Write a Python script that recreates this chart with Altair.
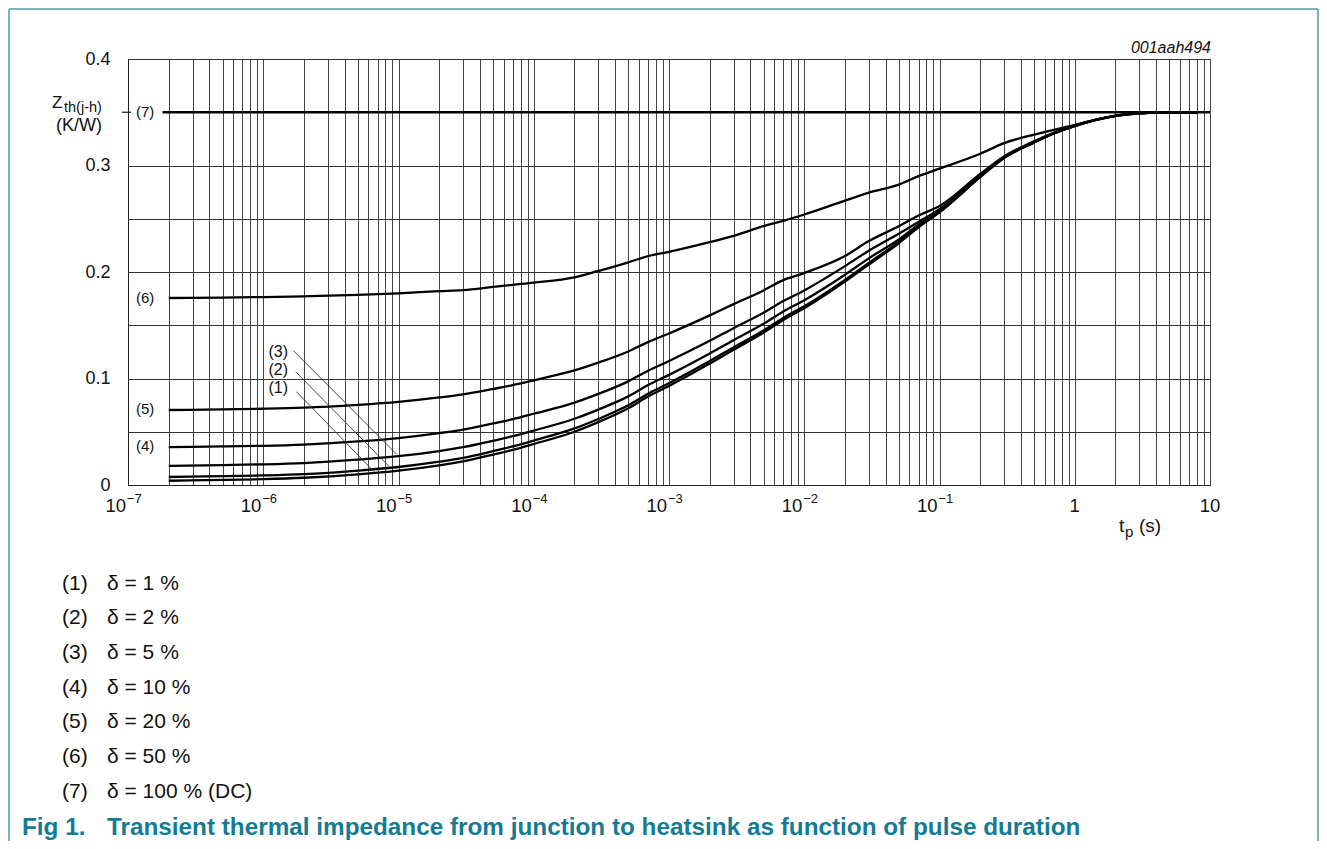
import altair as alt
import pandas as pd

FONT = "Liberation Sans"
TEAL = "#137b93"
BORDER = "#7db3c1"

# ---------------- data ----------------
t_pulse = [2e-7, 5e-7, 1e-6, 2e-6, 5e-6, 1e-5, 2e-5, 3e-5, 5e-5, 7e-5,
           1e-4, 2e-4, 3e-4, 5e-4, 7e-4, 1e-3, 2e-3, 3e-3, 5e-3, 7e-3,
           1e-2, 2e-2, 3e-2, 5e-2, 7e-2, 0.1, 0.2, 0.3, 0.5, 0.7,
           1, 2, 3, 5, 8]

z_d1 = [0.0040, 0.0048, 0.0055, 0.0068, 0.0100, 0.0135, 0.0185, 0.0222, 0.0285, 0.0330,
        0.0385, 0.0500, 0.0590, 0.0720, 0.0830, 0.0930, 0.1140, 0.1270, 0.1430, 0.1550,
        0.1660, 0.1910, 0.2070, 0.2270, 0.2420, 0.2560, 0.2890, 0.3070, 0.3215, 0.3300,
        0.3370, 0.3465, 0.3490, 0.3500, 0.3500]
z_d2 = [0.0075, 0.0083, 0.0090, 0.0102, 0.0135, 0.0169, 0.0219, 0.0255, 0.0318, 0.0362,
        0.0417, 0.0531, 0.0620, 0.0748, 0.0857, 0.0956, 0.1164, 0.1292, 0.1451, 0.1569,
        0.1678, 0.1926, 0.2085, 0.2283, 0.2431, 0.2565, 0.2895, 0.3073, 0.3217, 0.3301,
        0.3371, 0.3466, 0.3490, 0.3500, 0.3500]
z_d5 = [0.0180, 0.0187, 0.0194, 0.0206, 0.0238, 0.0271, 0.0319, 0.0355, 0.0415, 0.0458,
        0.0511, 0.0622, 0.0708, 0.0832, 0.0938, 0.1034, 0.1235, 0.1360, 0.1514, 0.1629,
        0.1734, 0.1974, 0.2128, 0.2305, 0.2445, 0.2575, 0.2900, 0.3076, 0.3219, 0.3302,
        0.3372, 0.3467, 0.3491, 0.3500, 0.3500]
z_d10 = [0.0355, 0.0362, 0.0368, 0.0380, 0.0409, 0.0441, 0.0487, 0.0520, 0.0578, 0.0618,
         0.0669, 0.0773, 0.0855, 0.0973, 0.1073, 0.1164, 0.1354, 0.1472, 0.1618, 0.1727,
         0.1827, 0.2055, 0.2200, 0.2360, 0.2470, 0.2590, 0.2910, 0.3080, 0.3222, 0.3305,
         0.3375, 0.3469, 0.3491, 0.3500, 0.3500]
z_d20 = [0.0704, 0.0710, 0.0716, 0.0726, 0.0753, 0.0781, 0.0822, 0.0851, 0.0902, 0.0938,
         0.0983, 0.1076, 0.1149, 0.1254, 0.1342, 0.1423, 0.1593, 0.1698, 0.1827, 0.1924,
         0.1990, 0.2150, 0.2290, 0.2430, 0.2530, 0.2620, 0.2920, 0.3085, 0.3228, 0.3308,
         0.3378, 0.3467, 0.3491, 0.3500, 0.3500]
z_d50 = [0.1756, 0.1760, 0.1765, 0.1772, 0.1785, 0.1800, 0.1820, 0.1830, 0.1860, 0.1880,
         0.1900, 0.1950, 0.2010, 0.2090, 0.2150, 0.2190, 0.2280, 0.2340, 0.2430, 0.2480,
         0.2540, 0.2670, 0.2745, 0.2820, 0.2900, 0.2970, 0.3110, 0.3210, 0.3290, 0.3335,
         0.3380, 0.3467, 0.3490, 0.3500, 0.3500]

t_dc = [1.8e-7, 10]
z_dc = [0.35, 0.35]

curve_ids = ["(1)", "(2)", "(3)", "(4)", "(5)", "(6)"]
curve_vals = [z_d1, z_d2, z_d5, z_d10, z_d20, z_d50]

legend_keys = ["(1)", "(2)", "(3)", "(4)", "(5)", "(6)", "(7)"]
legend_text = ["δ = 1 %", "δ = 2 %", "δ = 5 %", "δ = 10 %", "δ = 20 %",
               "δ = 50 %", "δ = 100 % (DC)"]

# labels at the left of the curves
lab_left = ["(4)", "(5)", "(6)", "(7)"]
lab_left_t = [1.34e-7, 1.34e-7, 1.34e-7, 1.34e-7]
lab_left_z = [0.0366, 0.0714, 0.1756, 0.35]

# labels with leader lines
lab_lead = ["(1)", "(2)", "(3)"]
lab_lead_t = [1.29e-6, 1.29e-6, 1.29e-6]
lab_lead_z = [0.091, 0.108, 0.1252]
lead_t1 = [1.76e-6, 1.74e-6, 1.67e-6]
lead_z1 = [0.0876, 0.1062, 0.1262]
lead_t2 = [6.6e-6, 8.55e-6, 9.7e-6]
lead_z2 = [0.0125, 0.0172, 0.0288]

# x tick labels
dec_neg_t = [1e-7, 1e-6, 1e-5, 1e-4, 1e-3, 1e-2, 1e-1]
dec_neg_exp = ["−7", "−6", "−5", "−4", "−3", "−2", "−1"]
dec_pos_t = [1, 10]
dec_pos_lab = ["1", "10"]

# ---------------- chart ----------------
W, H = 1082, 426
PX0, PY0 = 128, 59   # page position of the plot origin

xgrid = [m * 10.0 ** k for k in range(-7, 1) for m in range(1, 10)] + [10.0]
# horizontal grid every 0.05 (0.35 is carried by the DC line itself)
ygrid = [0.0, 0.05, 0.1, 0.15, 0.2, 0.25, 0.3, 0.4]

xs = alt.Scale(type="log", domain=[1e-7, 10], nice=False)
ys = alt.Scale(domain=[0, 0.4], nice=False, zero=False)

AX = alt.Axis(values=xgrid, labels=False, ticks=False, title=None,
              grid=True, gridColor="#454545", gridWidth=1,
              domainColor="#222", domainWidth=1)
AY = alt.Axis(values=ygrid, ticks=False, title=None, grid=True,
              gridColor="#333", gridWidth=1, domainColor="#222",
              domainWidth=1, format=".1~f",
              labelExpr="round(datum.value*20) % 2 == 1 ? '' : datum.label",
              labelFont=FONT, labelFontSize=18, labelColor="#111",
              labelPadding=18)


def X(field):
    return alt.X(field, type="quantitative", scale=xs, axis=AX)


def Y(field):
    return alt.Y(field, type="quantitative", scale=ys, axis=AY)


rows = []
for cid, vals in zip(curve_ids, curve_vals):
    for tv, zv in zip(t_pulse, vals):
        rows.append({"t": tv, "z": zv, "curve": cid})
df_curves = pd.DataFrame(rows)

curves = alt.Chart(df_curves).mark_line(
    color="black", strokeWidth=2.3, interpolate="monotone"
).encode(x=X("t"), y=Y("z"), detail="curve:N")

dc = alt.Chart(pd.DataFrame({"t": t_dc, "z": z_dc})).mark_line(
    color="black", strokeWidth=2.7
).encode(x=X("t"), y=Y("z"))

df_ll = pd.DataFrame({"t": lab_left_t, "z": lab_left_z, "lab": lab_left})
left_labels = alt.Chart(df_ll).mark_text(
    font=FONT, fontSize=15, color="#111", align="center", baseline="middle"
).encode(x=X("t"), y=Y("z"), text="lab:N")

df_lead = pd.DataFrame({"t": lab_lead_t, "z": lab_lead_z, "lab": lab_lead,
                        "t1": lead_t1, "z1": lead_z1, "t2": lead_t2, "z2": lead_z2})
lead_labels = alt.Chart(df_lead).mark_text(
    font=FONT, fontSize=16, color="#111", align="center", baseline="middle"
).encode(x=X("t"), y=Y("z"), text="lab:N")
lead_lines = alt.Chart(df_lead).mark_rule(color="#333", strokeWidth=0.9).encode(
    x=X("t1"), y=Y("z1"), x2="t2:Q", y2="z2:Q")

dash = alt.Chart(pd.DataFrame({"z": [0.35]})).mark_rule(
    color="#111", strokeWidth=1.2
).encode(x=alt.value(-6), x2=alt.value(3), y=Y("z"))

df_neg = pd.DataFrame({"t": dec_neg_t, "e": dec_neg_exp, "b": ["10"] * len(dec_neg_t)})
xlab_base = alt.Chart(df_neg).mark_text(
    font=FONT, fontSize=18.5, color="#111", align="right", baseline="alphabetic", dx=-2
).encode(x=X("t"), y=alt.value(512 - PY0), text="b:N")
xlab_exp = alt.Chart(df_neg).mark_text(
    font=FONT, fontSize=13, color="#111", align="left", baseline="alphabetic", dx=-1
).encode(x=X("t"), y=alt.value(503 - PY0), text="e:N")
df_pos = pd.DataFrame({"t": dec_pos_t, "lab": dec_pos_lab})
xlab_pos = alt.Chart(df_pos).mark_text(
    font=FONT, fontSize=18.5, color="#111", align="center", baseline="alphabetic"
).encode(x=X("t"), y=alt.value(512 - PY0), text="lab:N")

one = pd.DataFrame({"a": [0]})


def txt(s, px, py, size, align="left", baseline="alphabetic", **kw):
    return alt.Chart(one).mark_text(
        text=s, font=FONT, fontSize=size, align=align, baseline=baseline,
        color=kw.pop("color", "#111"), **kw
    ).encode(x=alt.value(px - PX0), y=alt.value(py - PY0))


texts = [
    txt("Z", 52, 108, 17),
    txt("th(j-h)", 64, 112, 14.5),
    txt("(K/W)", 79, 131, 18, align="center"),
    txt("001aah494", 1211, 53, 16, align="right", fontStyle="italic"),
    txt("t", 1119, 532, 19),
    txt("p", 1125, 537, 15),
    txt("(s)", 1139, 532, 19),
]
for i, (k, s) in enumerate(zip(legend_keys, legend_text)):
    yy = 589.5 + i * 34.7
    texts.append(txt(k, 62, yy, 21))
    texts.append(txt(s, 107, yy, 21))
texts.append(txt("Fig 1.", 22, 835, 24.3, fontWeight="bold", color=TEAL))
texts.append(txt("Transient thermal impedance from junction to heatsink as function of pulse duration",
                 107, 835, 24.3, fontWeight="bold", color=TEAL))

# light frame around the figure
frame = [
    alt.Chart(one).mark_rule(color=BORDER, strokeWidth=2.2).encode(
        x=alt.value(9 - PX0), x2=alt.value(1318 - PX0),
        y=alt.value(9 - PY0), y2=alt.value(9 - PY0)),
    alt.Chart(one).mark_rule(color=BORDER, strokeWidth=2.2).encode(
        x=alt.value(9 - PX0), x2=alt.value(9 - PX0),
        y=alt.value(9 - PY0), y2=alt.value(845 - PY0)),
    alt.Chart(one).mark_rule(color=BORDER, strokeWidth=2.2).encode(
        x=alt.value(1318 - PX0), x2=alt.value(1318 - PX0),
        y=alt.value(9 - PY0), y2=alt.value(845 - PY0)),
]

chart = alt.layer(
    curves, dc, left_labels, lead_lines, lead_labels, dash,
    xlab_base, xlab_exp, xlab_pos, *texts, *frame
).properties(
    width=W, height=H,
    autosize=alt.AutoSizeParams(type="none"),
    padding={"left": PX0 - 8, "top": PY0 - 8, "right": 1311 - (PX0 - 8) - W,
             "bottom": 833 - (PY0 - 8) - H},
    background="white",
).configure_view(stroke="#222", strokeWidth=1)

chart.save("out.html", embed_options={"renderer": "svg", "actions": False})
